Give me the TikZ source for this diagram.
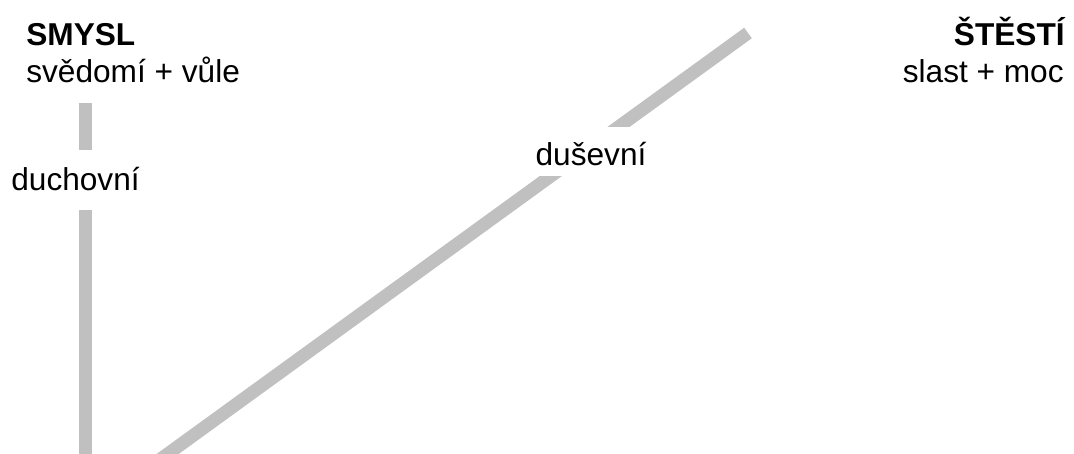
\documentclass[tikz,border=0pt]{standalone}
\usepackage{fontspec}
\setmainfont{Liberation Sans}
\usepackage{xcolor}
\usepackage{tikz}
\usetikzlibrary{
    positioning,
    calc
}

\definecolor{barGray}{RGB}{192,192,192}

\begin{document}
\begin{tikzpicture}[
        x=0.02cm, y=-0.02cm,
        every node/.style={
            inner sep=0pt,
            font=\fontsize{18}{21.6}\selectfont
        },
        bar/.style={
            draw=barGray,
            line width=0.26cm
        },
        title/.style={
            font=\fontsize{18}{21.6}\selectfont\bfseries
        },
        cut/.style={
            fill=white
        }
    ]

    \clip (0,0) rectangle (1074,453);

    % corners of the diagram
    \coordinate (spiritTop)  at (85,103);
    \coordinate (spiritFoot) at (85,470);
    \coordinate (soulTop)    at (748,33);
    \coordinate (soulFoot)   at ($(soulTop)!1.05!(169,453)$);

    \draw[bar] (spiritTop) -- (spiritFoot);
    \draw[bar] (soulTop) -- (soulFoot);

    \node[title, anchor=base west] (smysl) at (26,45) {SMYSL};
    \node[anchor=base west] (smyslSub) at (26,82) {svědomí + vůle};

    \node[title, anchor=base east] (stesti) at (1065,45) {ŠTĚSTÍ};
    \node[anchor=base east] (stestiSub) at (1064,82) {slast + moc};

    \node[cut, anchor=base west, text height=0.8cm, text depth=0.4cm]
        (duchovni) at (11,190) {duchovní};
    \node[cut, anchor=base, text height=0.76cm, text depth=0.22cm]
        (dusevni) at (591,165) {duševní};

\end{tikzpicture}
\end{document}
